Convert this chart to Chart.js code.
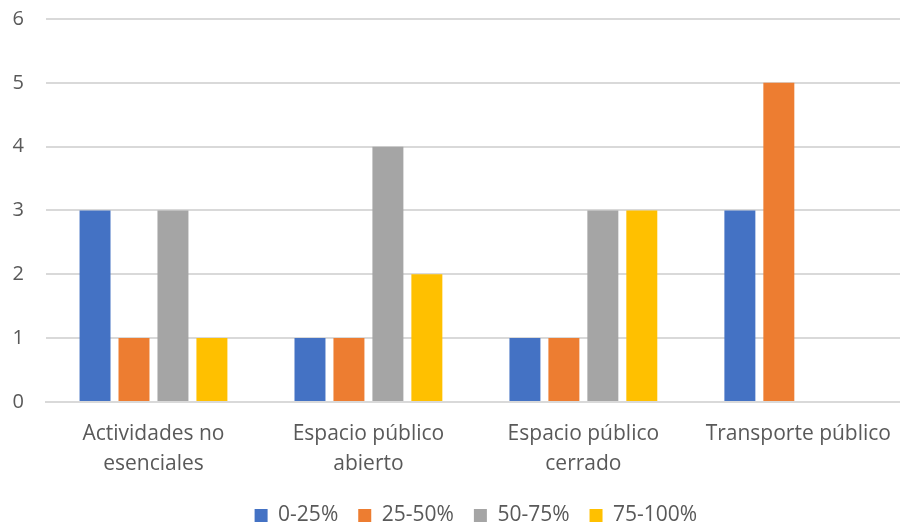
<!DOCTYPE html>
<html>
<head>
<meta charset="utf-8">
<script src="https://cdn.jsdelivr.net/npm/chart.js@4.4.0/dist/chart.umd.min.js"></script>
<style>
  html, body { margin: 0; padding: 0; background: #fff; overflow: hidden; }
  #wrap { width: 908px; height: 551px; margin-top: -15px; }
</style>
</head>
<body>
<div id="wrap"><canvas id="chart"></canvas></div>
<script>
// categorias y series
var categories = [
    ['Actividades no', 'esenciales'],
    ['Espacio público', 'abierto'],
    ['Espacio público', 'cerrado'],
    'Transporte público'
];
var seriesNames = ['0-25%', '25-50%', '50-75%', '75-100%'];
var s0_25 = [3, 1, 1, 3];
var s25_50 = [1, 1, 1, 5];
var s50_75 = [3, 4, 3, null];
var s75_100 = [1, 2, 3, null];
var colors = ['#4472C4', '#ED7D31', '#A5A5A5', '#FFC000'];
var yTicks = [0, 1, 2, 3, 4, 5, 6];

const textColor = '#595959';
const fontFam = '"Open Sans", "Noto Sans", sans-serif';

var allSeries = [s0_25, s25_50, s50_75, s75_100];
var datasets = allSeries.map((vals, i) => ({
    label: seriesNames[i],
    data: vals,
    backgroundColor: colors[i],
    borderWidth: 0,
    barPercentage: 0.795,
    categoryPercentage: 0.725
}));

const ctx = document.getElementById('chart').getContext('2d');
const chart = new Chart(ctx, {
    type: 'bar',
    data: {
        labels: categories,
        datasets: datasets
    },
    options: {
        responsive: true,
        maintainAspectRatio: false,
        animation: false,
        layout: {
            padding: { top: 0, left: 0, right: 0, bottom: 0 }
        },
        plugins: {
            tooltip: { enabled: false },
            legend: {
                position: 'bottom',
                fullSize: false,
                labels: {
                    boxWidth: 13,
                    boxHeight: 13,
                    padding: 20,
                    color: textColor,
                    font: { family: fontFam, size: 21 }
                }
            }
        },
        scales: {
            x: {
                grid: { display: false, drawTicks: false },
                border: { display: true, color: '#D9D9D9', width: 2 },
                ticks: {
                    color: textColor,
                    font: { family: fontFam, size: 21, lineHeight: 1.43 },
                    padding: 17,
                    maxRotation: 0,
                    autoSkip: false
                },
                afterFit: function(axis) {
                    axis.height = axis.height - 11;
                }
            },
            y: {
                min: 0,
                max: 6,
                afterBuildTicks: function(axis) {
                    axis.ticks = yTicks.map(v => ({ value: v }));
                },
                afterFit: function(axis) {
                    axis.width = 46;
                },
                grid: { color: '#D9D9D9', lineWidth: 2, drawTicks: false },
                border: { display: false },
                ticks: {
                    color: textColor,
                    font: { family: fontFam, size: 20 },
                    padding: 22,
                    align: 'center'
                }
            }
        }
    }
});
</script>
</body>
</html>
